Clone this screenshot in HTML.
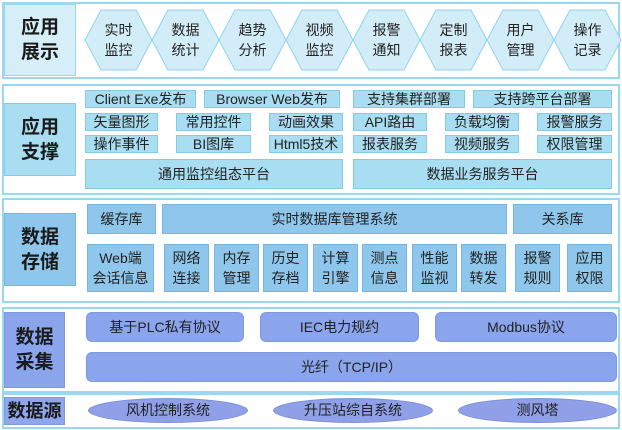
<!DOCTYPE html>
<html><head><meta charset="utf-8"><style>
*{margin:0;padding:0;box-sizing:border-box}
body{width:622px;height:430px;background:#fff;position:relative;overflow:hidden;font-family:"Liberation Sans","Noto Sans CJK SC",sans-serif;color:#222}
.p{position:absolute;left:2px;width:618px;border:2px solid #9ad8f0;background:#fff}
.b{position:absolute;display:flex;align-items:center;justify-content:center;text-align:center;font-size:14px;line-height:17px;white-space:nowrap}
.lab{font-size:19px;font-weight:bold;line-height:25px;color:#1a1a1a}
.a{background:#a9ddf1;border:1px solid #86cbe6}
.s{background:#8fc7ec;border:1px solid #78b6e0}
.c{background:#8ba5ec;border:1px solid #7f98e0;border-radius:6px}
.e{background:#8f9fe8;border:1px solid #7d8ed8;border-radius:50%}
</style></head><body>
<div class="p" style="top:2px;height:77px"></div>
<div class="p" style="top:84px;height:111px"></div>
<div class="p" style="top:198px;height:105px"></div>
<div class="p" style="top:307px;height:86px"></div>
<div class="p" style="top:393px;height:36px"></div>

<div class="b lab" style="left:4px;top:4px;width:72px;height:72px;background:#d5eef8;border:1px solid #9ad8f0">应用<br>展示</div>
<svg style="position:absolute;left:0;top:0" width="622" height="80">
<g fill="#d3edf8" stroke="#8fd3ee" stroke-width="1">
<polygon points="85,40 101,10 136,10 152,40 136,70 101,70"/>
<polygon points="152,40 168,10 203,10 219,40 203,70 168,70"/>
<polygon points="219,40 235,10 270,10 286,40 270,70 235,70"/>
<polygon points="286,40 302,10 337,10 353,40 337,70 302,70"/>
<polygon points="353,40 369,10 404,10 420,40 404,70 369,70"/>
<polygon points="420,40 436,10 471,10 487,40 471,70 436,70"/>
<polygon points="487,40 503,10 538,10 554,40 538,70 503,70"/>
<polygon points="554,40 570,10 605,10 621,40 605,70 570,70"/>
</g></svg>
<div class="b" style="left:85px;top:20px;width:67px;height:40px;line-height:20px">实时<br>监控</div>
<div class="b" style="left:152px;top:20px;width:67px;height:40px;line-height:20px">数据<br>统计</div>
<div class="b" style="left:219px;top:20px;width:67px;height:40px;line-height:20px">趋势<br>分析</div>
<div class="b" style="left:286px;top:20px;width:67px;height:40px;line-height:20px">视频<br>监控</div>
<div class="b" style="left:353px;top:20px;width:67px;height:40px;line-height:20px">报警<br>通知</div>
<div class="b" style="left:420px;top:20px;width:67px;height:40px;line-height:20px">定制<br>报表</div>
<div class="b" style="left:487px;top:20px;width:67px;height:40px;line-height:20px">用户<br>管理</div>
<div class="b" style="left:554px;top:20px;width:67px;height:40px;line-height:20px">操作<br>记录</div>

<div class="b lab a" style="left:4px;top:103px;width:72px;height:73px">应用<br>支撑</div>
<div class="b a" style="left:85px;top:90px;width:111px;height:18px">Client Exe发布</div>
<div class="b a" style="left:204px;top:90px;width:136px;height:18px">Browser Web发布</div>
<div class="b a" style="left:353px;top:90px;width:112px;height:18px">支持集群部署</div>
<div class="b a" style="left:473px;top:90px;width:139px;height:18px">支持跨平台部署</div>
<div class="b a" style="left:85px;top:113px;width:73px;height:18px">矢量图形</div>
<div class="b a" style="left:176px;top:113px;width:75px;height:18px">常用控件</div>
<div class="b a" style="left:269px;top:113px;width:74px;height:18px">动画效果</div>
<div class="b a" style="left:353px;top:113px;width:74px;height:18px">API路由</div>
<div class="b a" style="left:445px;top:113px;width:74px;height:18px">负载均衡</div>
<div class="b a" style="left:537px;top:113px;width:75px;height:18px">报警服务</div>
<div class="b a" style="left:85px;top:135px;width:73px;height:18px">操作事件</div>
<div class="b a" style="left:176px;top:135px;width:75px;height:18px">BI图库</div>
<div class="b a" style="left:269px;top:135px;width:74px;height:18px">Html5技术</div>
<div class="b a" style="left:353px;top:135px;width:74px;height:18px">报表服务</div>
<div class="b a" style="left:445px;top:135px;width:74px;height:18px">视频服务</div>
<div class="b a" style="left:537px;top:135px;width:75px;height:18px">权限管理</div>
<div class="b a" style="left:85px;top:159px;width:258px;height:30px">通用监控组态平台</div>
<div class="b a" style="left:353px;top:159px;width:259px;height:30px">数据业务服务平台</div>

<div class="b lab s" style="left:4px;top:213px;width:72px;height:73px">数据<br>存储</div>
<div class="b s" style="left:87px;top:204px;width:69px;height:30px">缓存库</div>
<div class="b s" style="left:162px;top:204px;width:345px;height:30px">实时数据库管理系统</div>
<div class="b s" style="left:513px;top:204px;width:99px;height:30px">关系库</div>
<div class="b s" style="left:87px;top:244px;width:67px;height:48px;line-height:20px">Web端<br>会话信息</div>
<div class="b s" style="left:164px;top:244px;width:45px;height:48px;line-height:20px">网络<br>连接</div>
<div class="b s" style="left:214px;top:244px;width:45px;height:48px;line-height:20px">内存<br>管理</div>
<div class="b s" style="left:263px;top:244px;width:45px;height:48px;line-height:20px">历史<br>存档</div>
<div class="b s" style="left:313px;top:244px;width:45px;height:48px;line-height:20px">计算<br>引擎</div>
<div class="b s" style="left:362px;top:244px;width:45px;height:48px;line-height:20px">测点<br>信息</div>
<div class="b s" style="left:412px;top:244px;width:45px;height:48px;line-height:20px">性能<br>监视</div>
<div class="b s" style="left:461px;top:244px;width:45px;height:48px;line-height:20px">数据<br>转发</div>
<div class="b s" style="left:515px;top:244px;width:45px;height:48px;line-height:20px">报警<br>规则</div>
<div class="b s" style="left:567px;top:244px;width:45px;height:48px;line-height:20px">应用<br>权限</div>

<div class="b lab" style="left:4px;top:312px;width:61px;height:76px;background:#8aa5ec;border:1px solid #7f98e0">数据<br>采集</div>
<div class="b c" style="left:86px;top:312px;width:158px;height:30px">基于PLC私有协议</div>
<div class="b c" style="left:260px;top:312px;width:159px;height:30px">IEC电力规约</div>
<div class="b c" style="left:435px;top:312px;width:182px;height:30px">Modbus协议</div>
<div class="b c" style="left:86px;top:352px;width:531px;height:30px">光纤（TCP/IP）</div>

<div class="b lab" style="left:4px;top:397px;width:61px;height:28px;background:#8fa5ec;border:1px solid #7f98e0;font-size:18px">数据源</div>
<div class="b e" style="left:88px;top:398px;width:160px;height:25px">风机控制系统</div>
<div class="b e" style="left:273px;top:398px;width:160px;height:25px">升压站综自系统</div>
<div class="b e" style="left:458px;top:398px;width:159px;height:25px">测风塔</div>
</body></html>
